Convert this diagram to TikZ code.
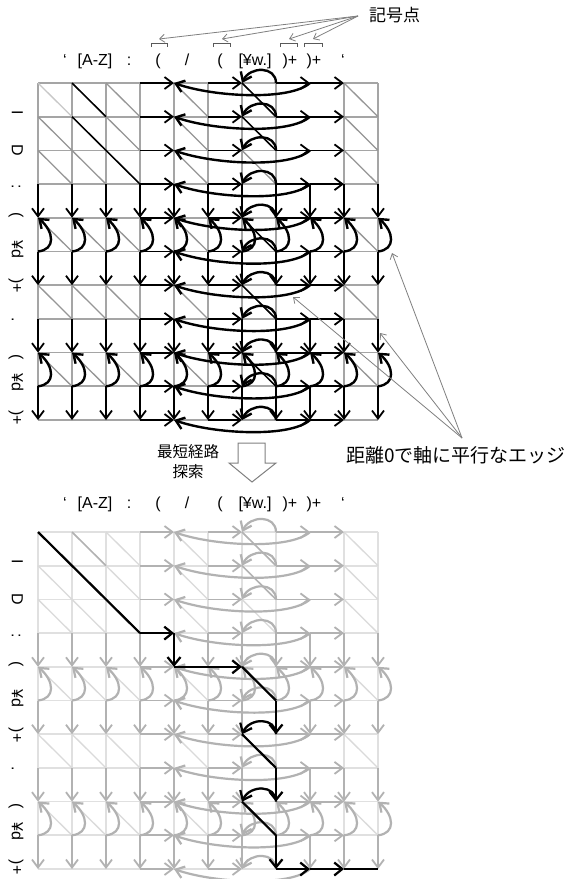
\documentclass[tikz,border=0pt]{standalone}
\usepackage{fontspec}
\setmainfont{Liberation Sans}
\newfontfamily\jp{Noto Sans CJK JP}
\usetikzlibrary{arrows.meta}
\definecolor{gridc}{RGB}{165,165,165}
\definecolor{diagc}{RGB}{150,150,150}
\definecolor{diagz}{RGB}{200,200,200}
\definecolor{lgridc}{RGB}{224,224,224}
\definecolor{ldiagc}{RGB}{218,218,218}
\definecolor{ledgec}{RGB}{178,178,178}
\definecolor{annc}{RGB}{128,128,128}
\newcommand{\drawgraph}[2]{%
  \foreach \i in {0,...,10}{\foreach \j in {0,...,10}{%
    \coordinate (#1-\i-\j) at ({38+34*\j},{#2-33.7*\i});}}
  \foreach \i in {0,...,10}{\foreach \a/\b in {0/1,1/2,2/3,4/5,6/7,9/10}{%
    \draw[gl] (#1-\i-\a) -- (#1-\i-\b);}}
  \foreach \j in {0,1,2,3,4,5,6,7,9,10}{\foreach \a/\b in {0/1,1/2,2/3,4/5,6/7,8/9}{%
    \draw[gl] (#1-\a-\j) -- (#1-\b-\j);}}
  \foreach \a/\b in {0/1,1/2,2/3,4/5,6/7,8/9}{\foreach \c/\d in {0/1,1/2,2/3,4/5,6/7,9/10}{%
    \ifnum\a\c=0 \draw[dgz] (#1-\a-\c) -- (#1-\b-\d);\else
    \draw[dg] (#1-\a-\c) -- (#1-\b-\d);\fi}}
  \foreach \a/\b/\c/\d in {0/1/1/2,1/2/1/2,2/3/2/3,0/1/6/7,1/2/6/7,4/5/6/7,6/7/6/7,8/9/6/7}{%
    \draw[mt] (#1-\a-\c) -- (#1-\b-\d);}
  \foreach \i in {0,...,10}{\foreach \a/\b in {3/4,5/6,7/8,8/9}{%
    \draw[bk] (#1-\i-\a) -- (#1-\i-\b);}}
  \foreach \j in {0,...,10}{\foreach \a/\b in {3/4,5/6,7/8,9/10}{%
    \draw[bk] (#1-\a-\j) -- (#1-\b-\j);}}
  \foreach \i in {0,...,10}{%
    \draw[lp] (#1-\i-7) .. controls +(0,17) and +(8,17) .. (#1-\i-6);
    \draw[lp] (#1-\i-8) .. controls +(-20,-18) and +(40,-14) .. (#1-\i-4);}
  \foreach \j in {0,...,10}{%
    \draw[lp] (#1-5-\j) .. controls +(18,2) and +(16,-14) .. (#1-4-\j);
    \draw[lp] (#1-9-\j) .. controls +(18,2) and +(16,-14) .. (#1-8-\j);}
}
\begin{document}
\begin{tikzpicture}[x=1pt,y=1pt,
  tip/.style={-{Straight Barb[length=8pt,width=12pt]}},
  lbl/.style={inner sep=0pt,anchor=base,font=\fontsize{16}{19}\selectfont},
  rlbl/.style={inner sep=0pt,anchor=base,rotate=-90,font=\fontsize{16}{19}\selectfont},
  ann/.style={draw=annc,line width=0.8pt,-{Straight Barb[length=5pt,width=8pt]}},
  brk/.style={draw=black!65,line width=0.8pt},
  pth/.style={draw=black,line width=2.2pt},
  ptip/.style={pth,-{Straight Barb[length=8pt,width=13pt]}}]
\useasboundingbox (0,0) rectangle (573,-879);
\fill[white] (0,0) rectangle (573,-879);
% ---------- upper graph ----------
\begin{scope}[gl/.style={draw=gridc,line width=1.7pt},
  dg/.style={draw=diagc,line width=1.3pt},
  dgz/.style={draw=diagz,line width=1.3pt},
  mt/.style={draw=black,line width=1.5pt},
  bk/.style={draw=black,line width=1.8pt,tip},
  lp/.style={draw=black,line width=2.4pt,tip}]
\drawgraph{u}{-83}
\end{scope}
% ---------- lower graph ----------
\begin{scope}[gl/.style={draw=lgridc,line width=1.7pt},
  dg/.style={draw=ldiagc,line width=1.3pt},
  dgz/.style={draw=ldiagc,line width=1.3pt},
  mt/.style={draw=ledgec,line width=1.5pt},
  bk/.style={draw=ledgec,line width=1.8pt,tip},
  lp/.style={draw=ledgec,line width=2.2pt,tip}]
\drawgraph{l}{-532}
\end{scope}
% path
\draw[pth] (l-0-0) -- (l-3-3);
\draw[ptip] (l-3-3) -- (l-3-4);
\draw[ptip] (l-3-4) -- (l-4-4);
\draw[ptip] (l-4-4) -- (l-4-6);
\draw[pth] (l-4-6) -- (l-5-7);
\draw[ptip] (l-5-7) -- (l-6-7);
\draw[ptip] (l-6-7) .. controls +(0,17) and +(8,17) .. (l-6-6);
\draw[pth] (l-6-6) -- (l-7-7);
\draw[ptip] (l-7-7) -- (l-8-7);
\draw[ptip] (l-8-7) .. controls +(0,17) and +(8,17) .. (l-8-6);
\draw[pth] (l-8-6) -- (l-9-7);
\draw[ptip] (l-9-7) -- (l-10-7);
\draw[ptip] (l-10-7) -- (l-10-8);
\draw[ptip] (l-10-8) -- (l-10-9);
\draw[pth] (l-10-9) -- (l-10-10);
% ---------- labels ----------
\foreach \x/\t [count=\k] in {65/{‘},95/{[A-Z]},129/{:},158/{(},187/{/},220/{(},255/{[¥w.]},290/{)+},314/{)+},343/{‘}}{%
  \node[lbl] (uc\k) at (\x,-65) {\t};
  \node[lbl] (lc\k) at (\x,-508.5) {\t};}
\foreach \y/\t [count=\k] in {113/I,150/D,187/:,215/(,249/{¥d},286/{)+},320/.,357/(,382/{¥d},418/{)+}}{%
  \node[rlbl] (ur\k) at (12,-\y) {\t};
  \node[rlbl] (lr\k) at (12,-\y-449) {\t};}
% symbol points
\node[inner sep=0pt,anchor=west,font=\jp\fontsize{17}{20}\selectfont] (kigo) at (369,-15.5) {記号点};
\coordinate (ks) at (358,-16);
\foreach \c/\w [count=\k] in {159/8,222/8.5,289/8.5,313/9}{%
  \coordinate (bk\k) at (\c,-43);
  \draw[brk] ([xshift=-\w pt,yshift=-4pt]bk\k) -- ([xshift=-\w pt]bk\k) -- ([xshift=\w pt]bk\k) -- ([xshift=\w pt,yshift=-4pt]bk\k);
  \draw[ann] (ks) -- ([yshift=4pt]bk\k);}
% distance 0 edges
\node[inner sep=0pt,anchor=west,font=\jp\fontsize{19}{22}\selectfont] (kyori) at (346,-455) {距離0で軸に平行なエッジ};
\coordinate (ds) at (462,-438);
\coordinate (d1) at (392,-253);
\coordinate (d2) at (293,-297);
\coordinate (d3) at (380,-333);
\draw[ann] (ds) -- (d1);
\draw[ann] (ds) -- (d2);
\draw[ann] (ds) -- (d3);
% search arrow
\node[align=center,inner sep=0pt,font=\jp\fontsize{15.5}{20}\selectfont] (srch) at (188,-462) {最短経路\\探索};
\draw[draw=annc,line width=1pt,fill=white] (238,-443) -- (265,-443) -- (265,-463) -- (276,-463) -- (252,-482) -- (229,-463) -- (238,-463) -- cycle;
\end{tikzpicture}
\end{document}
